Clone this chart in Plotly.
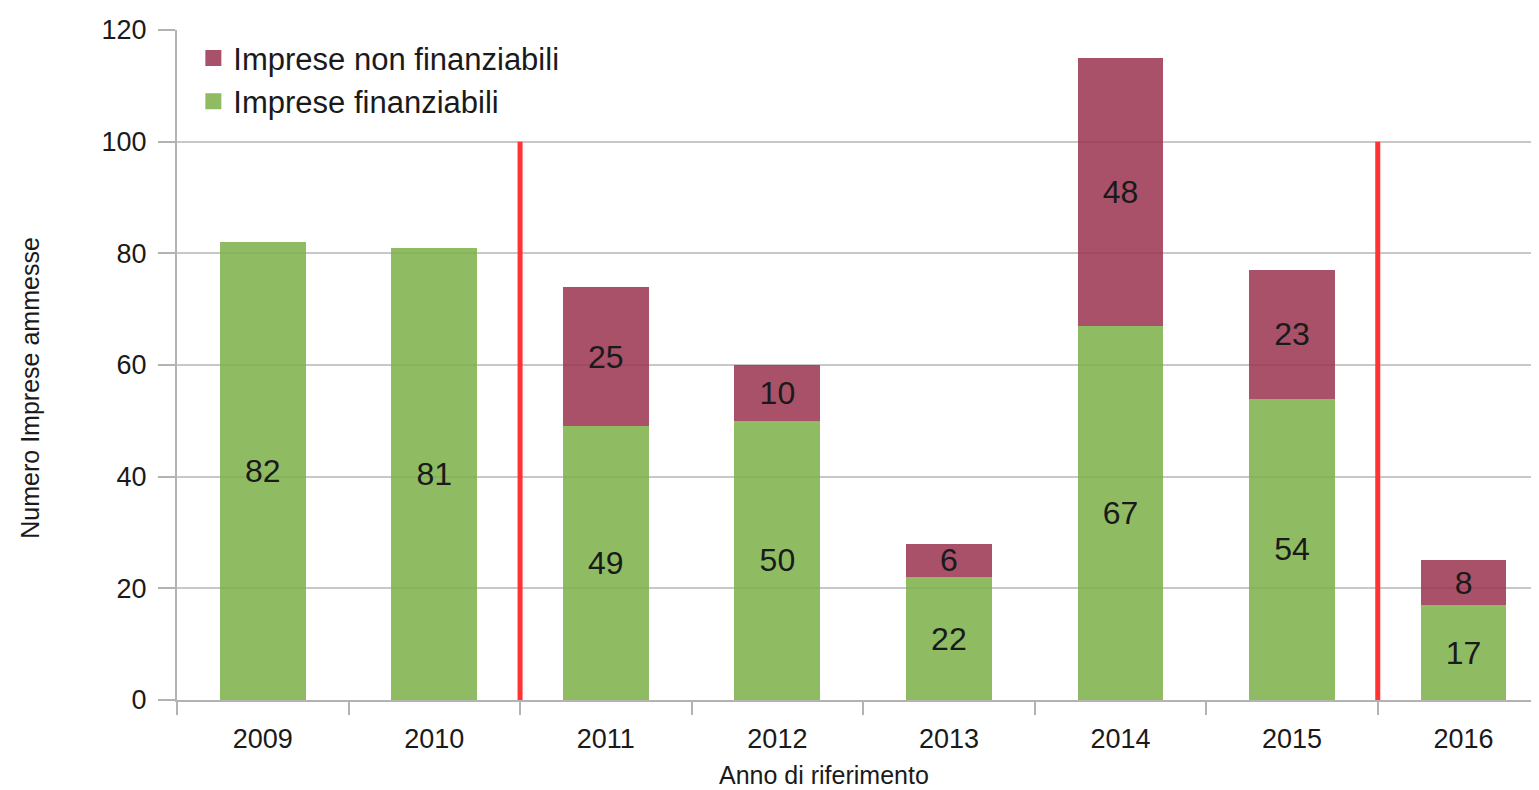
import plotly.graph_objects as go

years = ["2009", "2010", "2011", "2012", "2013", "2014", "2015", "2016"]
finanziabili = [82, 81, 49, 50, 22, 67, 54, 17]
non_finanziabili = [None, None, 25, 10, 6, 48, 23, 8]
separator_after = ["2010", "2015"]   # red dividers placed after these years
separator_top = 100

green = "rgba(123,176,70,0.85)"
purple = "rgba(153,51,79,0.85)"
font = "Liberation Sans, Arial, sans-serif"

fig = go.Figure()
fig.add_trace(go.Bar(
    x=years, y=finanziabili, name="Imprese finanziabili",
    marker=dict(color=green, line=dict(width=0)),
    text=[str(v) for v in finanziabili], textposition="inside",
    insidetextanchor="middle", constraintext="none", textangle=0,
    textfont=dict(size=32, color="#1a1a1a", family=font),
    showlegend=False,
))
fig.add_trace(go.Bar(
    x=years, y=non_finanziabili, name="Imprese non finanziabili",
    marker=dict(color=purple, line=dict(width=0)),
    text=["" if v is None else str(v) for v in non_finanziabili], textposition="inside",
    insidetextanchor="middle", constraintext="none", textangle=0,
    textfont=dict(size=32, color="#1a1a1a", family=font),
    showlegend=False,
))
# legend entries with larger square swatches
fig.add_trace(go.Scatter(x=[None], y=[None], mode="markers", name="Imprese non finanziabili",
                         marker=dict(symbol="square", size=21, color=purple)))
fig.add_trace(go.Scatter(x=[None], y=[None], mode="markers", name="Imprese finanziabili",
                         marker=dict(symbol="square", size=21, color=green)))

for yr in separator_after:
    pos = years.index(yr) + 0.5
    fig.add_shape(type="line", xref="x", yref="y", x0=pos, x1=pos, y0=0, y1=separator_top,
                  line=dict(color="#ff3333", width=5), layer="above")

fig.update_layout(
    width=1531, height=782,
    barmode="stack", bargap=0.5,
    plot_bgcolor="white", paper_bgcolor="white",
    margin=dict(l=169, r=0, t=22, b=90),
    font=dict(family=font, color="#1a1a1a"),
    legend=dict(x=0.012, y=0.998, xanchor="left", yanchor="top",
                bgcolor="rgba(0,0,0,0)", font=dict(size=31, family=font),
                traceorder="normal", itemsizing="trace", tracegroupgap=0),
    showlegend=True,
)
fig.update_xaxes(
    type="category", range=[-0.5, 7.44], tickson="boundaries",
    ticks="outside", ticklen=13, tickcolor="#b3b3b3", tickwidth=2,
    showgrid=False, showline=True, linecolor="#b3b3b3", linewidth=2,
    tickfont=dict(size=27, family=font, color="#1a1a1a"),
    ticklabelstandoff=14,
)
fig.update_yaxes(
    range=[0, 120], tickvals=[0, 20, 40, 60, 80, 100, 120],
    ticks="outside", ticklen=17, tickcolor="#b3b3b3", tickwidth=2,
    showgrid=True, gridcolor="#c8c8c8", gridwidth=2,
    showline=True, linecolor="#b3b3b3", linewidth=2, zeroline=False,
    tickfont=dict(size=27, family=font, color="#1a1a1a"),
    ticklabelstandoff=6,
)
fig.add_annotation(text="Anno di riferimento", xref="paper", yref="paper",
                   x=0.475, y=-0.112, xanchor="center", yanchor="middle", showarrow=False,
                   font=dict(size=25, family=font, color="#1a1a1a"))
fig.add_annotation(text="Numero Imprese ammesse", xref="paper", yref="paper",
                   x=-0.108, y=0.466, xanchor="center", yanchor="middle", textangle=-90,
                   showarrow=False, font=dict(size=25, family=font, color="#1a1a1a"))

fig.write_html("out.html")
